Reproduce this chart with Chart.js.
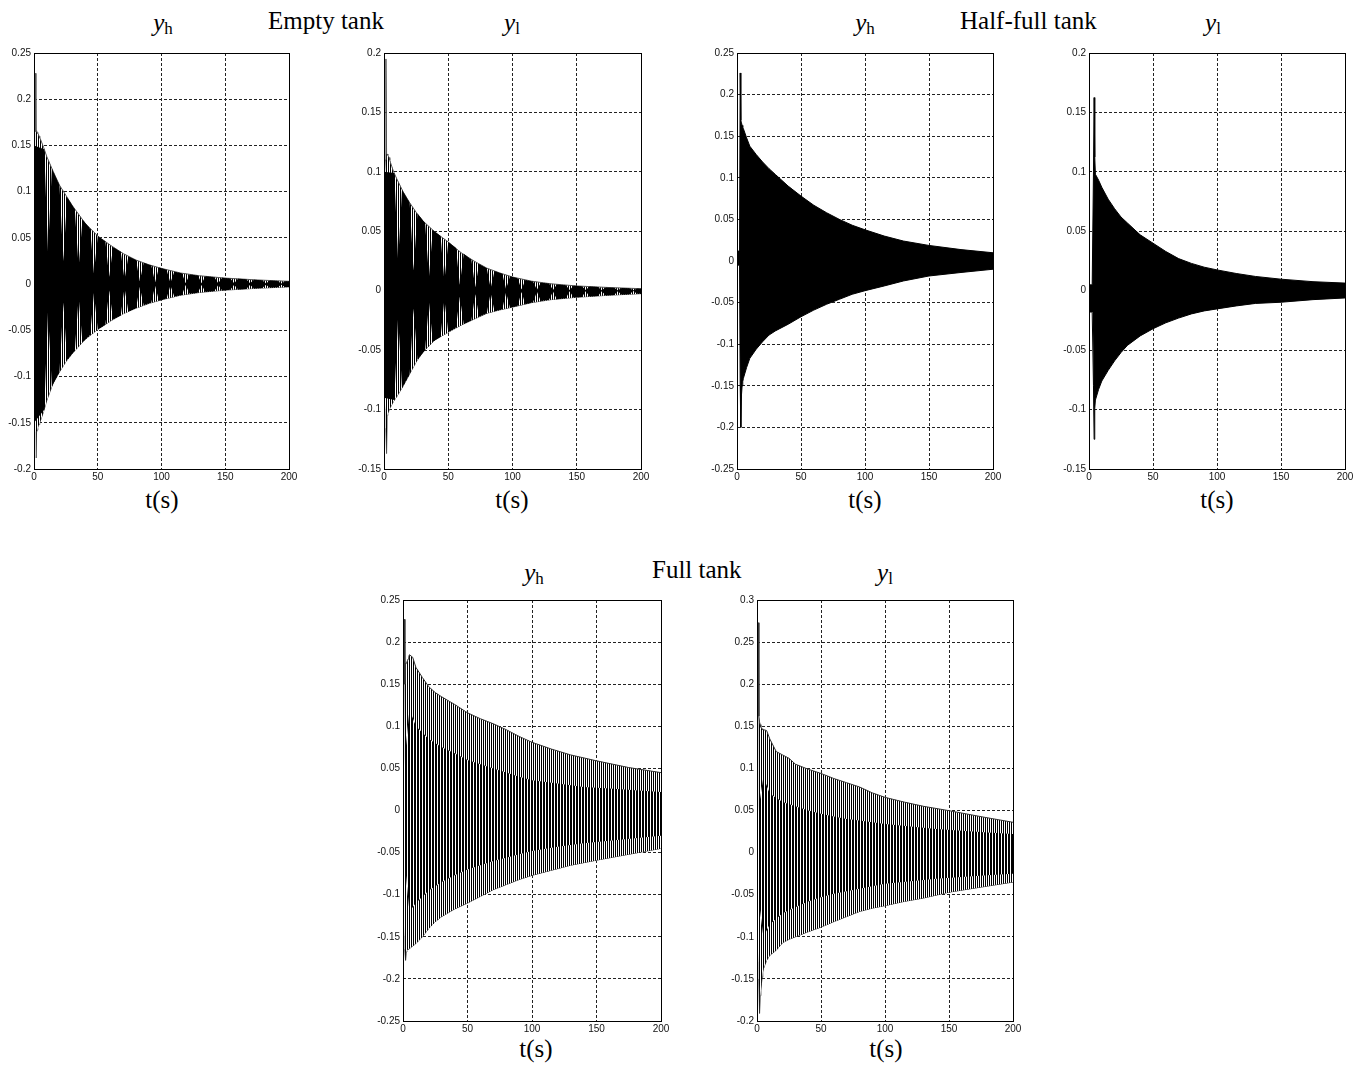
<!DOCTYPE html>
<html>
<head>
<meta charset="utf-8">
<script src="https://cdn.jsdelivr.net/npm/chart.js@4"></script>
<style>
  body { margin: 0; background: #fff; width: 1369px; height: 1072px; position: relative; overflow: hidden; }
  canvas { position: absolute; }
  .lbl { position: absolute; font-family: "Liberation Serif", "Times New Roman", serif; font-size: 25px; line-height: 25px; color: #000; white-space: nowrap; }
  .ctr { width: 200px; text-align: center; }
  .sub { font-size: 17px; position: relative; top: 3px; }
</style>
</head>
<body>
<div class="lbl ctr" style="left:63px;top:10px"><i>y</i><span class="sub">h</span></div>
<div class="lbl" style="left:268px;top:8px">Empty tank</div>
<div class="lbl ctr" style="left:412px;top:10px"><i>y</i><span class="sub">l</span></div>
<div class="lbl ctr" style="left:765px;top:10px"><i>y</i><span class="sub">h</span></div>
<div class="lbl" style="left:960px;top:8px">Half-full tank</div>
<div class="lbl ctr" style="left:1113px;top:10px"><i>y</i><span class="sub">l</span></div>
<div class="lbl ctr" style="left:62px;top:487px">t(s)</div>
<div class="lbl ctr" style="left:412px;top:487px">t(s)</div>
<div class="lbl ctr" style="left:765px;top:487px">t(s)</div>
<div class="lbl ctr" style="left:1117px;top:487px">t(s)</div>

<div class="lbl ctr" style="left:434px;top:560px"><i>y</i><span class="sub">h</span></div>
<div class="lbl" style="left:652px;top:557px">Full tank</div>
<div class="lbl ctr" style="left:785px;top:560px"><i>y</i><span class="sub">l</span></div>
<div class="lbl ctr" style="left:436px;top:1036px">t(s)</div>
<div class="lbl ctr" style="left:786px;top:1036px">t(s)</div>

<canvas id="c1"></canvas>
<canvas id="c2"></canvas>
<canvas id="c3"></canvas>
<canvas id="c4"></canvas>
<canvas id="c5"></canvas>
<canvas id="c6"></canvas>

<script>
// ---- data ----
const xTicks = [0, 50, 100, 150, 200];
const yTicksEmptyH = [-0.2, -0.15, -0.1, -0.05, 0, 0.05, 0.1, 0.15, 0.2, 0.25];
const yTicksEmptyL = [-0.15, -0.1, -0.05, 0, 0.05, 0.1, 0.15, 0.2];
const yTicksHalfH = [-0.25, -0.2, -0.15, -0.1, -0.05, 0, 0.05, 0.1, 0.15, 0.2, 0.25];
const yTicksHalfL = [-0.15, -0.1, -0.05, 0, 0.05, 0.1, 0.15, 0.2];
const yTicksFullH = [-0.25, -0.2, -0.15, -0.1, -0.05, 0, 0.05, 0.1, 0.15, 0.2, 0.25];
const yTicksFullL = [-0.2, -0.15, -0.1, -0.05, 0, 0.05, 0.1, 0.15, 0.2, 0.25, 0.3];

// envelope sample times (s)
const tEnv = [0, 0.5, 1, 1.5, 2, 2.5, 3, 3.5, 4, 4.5, 5, 7.5, 10, 15, 20, 25, 30, 40, 50, 60, 70, 80, 90, 100, 115, 130, 150, 175, 200];

const emptyHUpper = [0, 0.165, 0.228, 0.165, 0.166, 0.164, 0.163, 0.162, 0.16, 0.158, 0.157, 0.148, 0.138, 0.122, 0.107, 0.096, 0.085, 0.066, 0.052, 0.042, 0.033, 0.026, 0.021, 0.017, 0.012, 0.009, 0.0065, 0.0045, 0.003];
const emptyHLower = [0, -0.15, -0.16, -0.188, -0.16, -0.158, -0.155, -0.153, -0.152, -0.15, -0.148, -0.138, -0.126, -0.107, -0.095, -0.084, -0.075, -0.06, -0.049, -0.04, -0.032, -0.026, -0.021, -0.017, -0.012, -0.009, -0.0065, -0.0045, -0.003];
const emptyLUpper = [0, 0.1, 0.11, 0.195, 0.115, 0.115, 0.114, 0.113, 0.112, 0.11, 0.108, 0.1, 0.094, 0.083, 0.074, 0.066, 0.059, 0.049, 0.041, 0.032, 0.025, 0.019, 0.015, 0.0115, 0.008, 0.0058, 0.004, 0.0027, 0.0017];
const emptyLLower = [0, -0.09, -0.1, -0.116, -0.137, -0.105, -0.103, -0.102, -0.1, -0.099, -0.098, -0.093, -0.089, -0.08, -0.07, -0.06, -0.052, -0.041, -0.035, -0.029, -0.024, -0.019, -0.0162, -0.0138, -0.01, -0.0075, -0.0055, -0.0038, -0.0025];
const halfHUpper = [0.012, 0.012, 0.012, 0.012, 0.012, 0.226, 0.169, 0.166, 0.163, 0.161, 0.159, 0.148, 0.138, 0.128, 0.119, 0.111, 0.104, 0.09, 0.078, 0.067, 0.058, 0.05, 0.043, 0.0375, 0.03, 0.024, 0.0187, 0.0137, 0.0099];
const halfHLower = [-0.005, -0.005, -0.005, -0.005, -0.005, -0.15, -0.2, -0.161, -0.15, -0.145, -0.141, -0.128, -0.117, -0.106, -0.097, -0.089, -0.084, -0.076, -0.067, -0.059, -0.052, -0.046, -0.04, -0.0357, -0.03, -0.024, -0.018, -0.0138, -0.0099];
const halfLUpper = [0.005, 0.005, 0.005, 0.005, 0.005, 0.005, 0.005, 0.1, 0.1625, 0.1125, 0.098, 0.093, 0.087, 0.077, 0.069, 0.062, 0.057, 0.047, 0.04, 0.033, 0.027, 0.023, 0.0198, 0.0175, 0.0145, 0.012, 0.0097, 0.0076, 0.0064];
const halfLLower = [-0.018, -0.018, -0.018, -0.018, -0.018, -0.018, -0.018, -0.08, -0.125, -0.099, -0.092, -0.083, -0.076, -0.067, -0.059, -0.052, -0.046, -0.038, -0.032, -0.027, -0.023, -0.0195, -0.017, -0.0153, -0.0128, -0.0107, -0.0097, -0.0075, -0.0061];
const fullHUpper = [0.045, 0.1, 0.227, 0.15, 0.175, 0.175, 0.176, 0.178, 0.18, 0.183, 0.185, 0.182, 0.17, 0.158, 0.147, 0.14, 0.135, 0.126, 0.116, 0.109, 0.103, 0.096, 0.088, 0.081, 0.073, 0.066, 0.059, 0.051, 0.045];
const fullHLower = [-0.04, -0.12, -0.15, -0.165, -0.178, -0.168, -0.166, -0.165, -0.165, -0.164, -0.164, -0.161, -0.158, -0.15, -0.14, -0.132, -0.126, -0.117, -0.11, -0.102, -0.094, -0.088, -0.082, -0.077, -0.071, -0.065, -0.059, -0.052, -0.045];
const fullLUpper = [0.045, 0.1, 0.273, 0.162, 0.155, 0.152, 0.149, 0.148, 0.147, 0.146, 0.146, 0.145, 0.135, 0.12, 0.116, 0.112, 0.105, 0.099, 0.094, 0.088, 0.083, 0.078, 0.071, 0.0656, 0.06, 0.055, 0.0498, 0.0427, 0.036];
const fullLLower = [-0.045, -0.1, -0.13, -0.15, -0.191, -0.17, -0.164, -0.155, -0.148, -0.142, -0.138, -0.128, -0.122, -0.116, -0.107, -0.103, -0.1, -0.094, -0.0885, -0.082, -0.076, -0.07, -0.066, -0.063, -0.058, -0.054, -0.047, -0.041, -0.035];

// beat lobes of the empty tank: black core narrowing at each node
const tLobe = [0, 8, 11, 14, 20, 23, 26, 32, 35, 38, 44, 47, 50, 56, 59, 62, 68, 71, 74, 80, 83, 86, 92, 95, 98, 104, 107, 110, 116, 119, 122, 128.5, 131.5, 134.5, 141.5, 144.5, 147.5, 154, 157, 160, 166.5, 169.5, 172.5, 179, 182, 185, 191, 194, 197, 200];
const emptyHCoreUpper = [0.15, 0.146, 0.035, 0.125, 0.107, 0.025, 0.094, 0.081, 0.018, 0.07, 0.06, 0.012, 0.052, 0.046, 0.008, 0.04, 0.035, 0.005, 0.03, 0.026, 0.003, 0.023, 0.02, 0.002, 0.018, 0.0155, 0.0015, 0.0135, 0.0118, 0.001, 0.0105, 0.0093, 0.001, 0.0084, 0.0075, 0.001, 0.0068, 0.0062, 0.0008, 0.0057, 0.0052, 0.0008, 0.0047, 0.0042, 0.0006, 0.0039, 0.0035, 0.0006, 0.0032, 0.003];
const emptyHCoreLower = [-0.15, -0.136, -0.03, -0.111, -0.095, -0.02, -0.082, -0.072, -0.014, -0.063, -0.055, -0.01, -0.049, -0.044, -0.007, -0.038, -0.034, -0.004, -0.0295, -0.026, -0.003, -0.023, -0.02, -0.002, -0.018, -0.0155, -0.0015, -0.0135, -0.0118, -0.001, -0.0105, -0.0093, -0.001, -0.0084, -0.0075, -0.001, -0.0068, -0.0062, -0.0008, -0.0057, -0.0052, -0.0008, -0.0047, -0.0042, -0.0006, -0.0039, -0.0035, -0.0006, -0.0032, -0.003];
const emptyLCoreUpper = [0.1, 0.099, 0.025, 0.085, 0.074, 0.017, 0.065, 0.057, 0.012, 0.051, 0.046, 0.008, 0.041, 0.036, 0.005, 0.031, 0.026, 0.003, 0.0225, 0.019, 0.002, 0.0165, 0.0143, 0.0015, 0.0122, 0.0105, 0.001, 0.009, 0.0078, 0.0008, 0.0068, 0.006, 0.0006, 0.0053, 0.0047, 0.0005, 0.0042, 0.0038, 0.0005, 0.0035, 0.0031, 0.0004, 0.0028, 0.0025, 0.0004, 0.0023, 0.002, 0.0003, 0.0018, 0.0017];
const emptyLCoreLower = [-0.09, -0.092, -0.022, -0.082, -0.07, -0.015, -0.058, -0.05, -0.01, -0.043, -0.039, -0.007, -0.035, -0.031, -0.005, -0.028, -0.025, -0.003, -0.022, -0.019, -0.002, -0.0173, -0.0157, -0.0015, -0.0143, -0.0128, -0.001, -0.0113, -0.0098, -0.0008, -0.0087, -0.0077, -0.0006, -0.0071, -0.0064, -0.0005, -0.0057, -0.0052, -0.0005, -0.0049, -0.0044, -0.0004, -0.004, -0.0036, -0.0004, -0.0033, -0.0029, -0.0003, -0.0026, -0.0025];

// denser middle band of the full tank
const tCoreFull = [0, 5, 10, 20, 30, 40, 50, 60, 70, 80, 90, 100, 120, 140, 160, 180, 200];
const fullHCoreUpper = [0.04, 0.12, 0.1, 0.085, 0.075, 0.068, 0.06, 0.055, 0.05, 0.045, 0.04, 0.036, 0.032, 0.028, 0.026, 0.024, 0.022];
const fullHCoreLower = [-0.04, -0.12, -0.11, -0.095, -0.085, -0.077, -0.07, -0.065, -0.06, -0.056, -0.052, -0.048, -0.043, -0.039, -0.036, -0.033, -0.03];
const fullLCoreUpper = [0.04, 0.09, 0.07, 0.06, 0.055, 0.05, 0.046, 0.043, 0.04, 0.038, 0.036, 0.034, 0.031, 0.028, 0.026, 0.024, 0.022];
const fullLCoreLower = [-0.04, -0.1, -0.085, -0.072, -0.065, -0.058, -0.053, -0.049, -0.046, -0.043, -0.04, -0.037, -0.034, -0.031, -0.029, -0.027, -0.025];

// ---- drawing ----
// vertical stripe fill to mimic the dense oscillation strokes
function stripes(on, off) {
  const c = document.createElement("canvas");
  c.width = on + off;
  c.height = 1;
  const g = c.getContext("2d");
  g.fillStyle = "#fff";
  g.fillRect(0, 0, on + off, 1);
  g.fillStyle = "#000";
  g.fillRect(0, 0, on, 1);
  return g.createPattern(c, "repeat");
}
const hatch = stripes(1, 1);
const dense = stripes(2, 1);

const pts = (t, v) => t.map((x, i) => ({ x, y: v[i] }));

function band(t, upper, lower, fill, edge, bw) {
  return [
    { data: pts(t, upper), fill: "+1", backgroundColor: fill, borderColor: edge, borderWidth: bw, pointRadius: 0, tension: 0 },
    { data: pts(t, lower), fill: false, borderColor: edge, borderWidth: bw, pointRadius: 0, tension: 0 },
  ];
}

// MATLAB-like box around the axes
const boxPlugin = {
  id: "box",
  afterDatasetsDraw(chart) {
    const { ctx, chartArea: a } = chart;
    ctx.save();
    ctx.strokeStyle = "#000";
    ctx.lineWidth = 1;
    ctx.strokeRect(Math.round(a.left) + 0.5, Math.round(a.top) + 0.5, Math.round(a.right - a.left), Math.round(a.bottom - a.top));
    ctx.restore();
  },
};

const tickFont = { family: "'Liberation Sans Narrow', 'Liberation Sans', Arial, sans-serif", size: 10 };

function panel(id, left, top, w, h, yTicks, datasets) {
  const cv = document.getElementById(id);
  const padL = 34, padR = 12, padT = 8, padB = 20;
  cv.width = w + padL + padR;
  cv.height = h + padT + padB;
  cv.style.left = left - padL + "px";
  cv.style.top = top - padT + "px";
  new Chart(cv, {
    type: "line",
    data: { datasets },
    plugins: [boxPlugin],
    options: {
      responsive: false,
      animation: false,
      events: [],
      layout: { padding: { top: padT, right: padR, left: 0, bottom: 0 } },
      plugins: { legend: { display: false }, tooltip: { enabled: false } },
      scales: {
        x: {
          type: "linear",
          min: 0,
          max: 200,
          afterBuildTicks: (s) => { s.ticks = xTicks.map((v) => ({ value: v })); },
          afterFit: (s) => { s.height = padB; },
          ticks: { font: tickFont, color: "#111", padding: 2, maxRotation: 0, autoSkip: false },
          grid: { color: "#222", lineWidth: 1, drawTicks: false },
          border: { display: false, dash: [3, 2] },
        },
        y: {
          type: "linear",
          min: yTicks[0],
          max: yTicks[yTicks.length - 1],
          afterBuildTicks: (s) => { s.ticks = yTicks.map((v) => ({ value: v })); },
          afterFit: (s) => { s.width = padL; },
          ticks: { font: tickFont, color: "#111", padding: 3, autoSkip: false, callback: (v) => String(+v.toFixed(3)) },
          grid: { color: "#222", lineWidth: 1, drawTicks: false },
          border: { display: false, dash: [3, 2] },
        },
      },
    },
  });
}

panel("c1", 34, 52, 255, 417, yTicksEmptyH, [
  ...band(tLobe, emptyHCoreUpper, emptyHCoreLower, "#000", "#000", 0),
  ...band(tEnv, emptyHUpper, emptyHLower, hatch, "#555", 1),
]);
panel("c2", 384, 52, 257, 417, yTicksEmptyL, [
  ...band(tLobe, emptyLCoreUpper, emptyLCoreLower, "#000", "#000", 0),
  ...band(tEnv, emptyLUpper, emptyLLower, hatch, "#555", 1),
]);
panel("c3", 737, 52, 256, 417, yTicksHalfH, [
  ...band(tEnv, halfHUpper, halfHLower, "#000", "#000", 1),
]);
panel("c4", 1089, 52, 256, 417, yTicksHalfL, [
  ...band(tEnv, halfLUpper, halfLLower, "#000", "#000", 1),
]);
panel("c5", 403, 599, 258, 422, yTicksFullH, [
  ...band(tCoreFull, fullHCoreUpper, fullHCoreLower, dense, "#000", 0),
  ...band(tEnv, fullHUpper, fullHLower, hatch, "#333", 1),
]);
panel("c6", 757, 599, 256, 422, yTicksFullL, [
  ...band(tCoreFull, fullLCoreUpper, fullLCoreLower, dense, "#000", 0),
  ...band(tEnv, fullLUpper, fullLLower, hatch, "#333", 1),
]);
</script>
</body>
</html>
